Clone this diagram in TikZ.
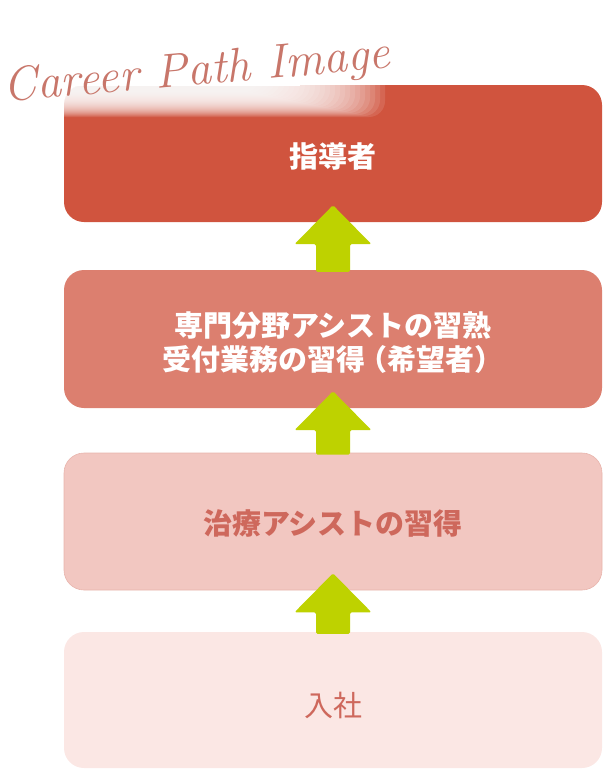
\documentclass[tikz,border=0pt]{standalone}
\usepackage{fontspec}
\newfontfamily\jp{Noto Sans CJK JP}
\usetikzlibrary{calc}
\definecolor{cA}{RGB}{208,84,62}
\definecolor{cB}{RGB}{220,127,111}
\definecolor{cC}{RGB}{242,199,193}
\definecolor{cCline}{RGB}{232,180,172}
\definecolor{cD}{RGB}{251,231,228}
\definecolor{txtred}{RGB}{206,104,92}
\definecolor{arrowgreen}{RGB}{190,210,0}
\definecolor{titlecol}{RGB}{200,118,106}
\tikzset{
  stage/.style={rounded corners=20pt, minimum width=538pt, inner sep=0pt},
  stagetext/.style={align=center, inner sep=0pt, font=\jp\bfseries\fontsize{29}{34}\selectfont},
  uparrow/.style={fill=arrowgreen, rounded corners=1.5pt}
}
\begin{document}
\begin{tikzpicture}[x=1pt,y=-1pt]
\useasboundingbox (0,0) rectangle (604,771);
\node[stage, fill=cA, minimum height=137pt] (b1) at (333,153.5) {};
\node[stage, fill=cB, minimum height=138pt] (b2) at (333,339) {};
\node[stage, fill=cC, draw=cCline, line width=0.6pt, minimum height=137pt] (b3) at (333,521.5) {};
\node[stage, fill=cD, minimum height=136pt] (b4) at (333,700) {};
\node[stagetext, text=white] (t1) at ($(b1.center)+(0,3)$) {指導者};
\node[stagetext, text=white] (t2) at ($(b2.center)+(0,4)$) {専門分野アシストの習熟\\受付業務の習得\kern-7pt（希望者）};
\node[stagetext, text=txtred] (t3) at ($(b3.center)+(0,2)$) {治療アシストの習得};
\node[stagetext, text=txtred, font=\jp\fontsize{29}{34}\selectfont] (t4) at ($(b4.center)+(0,5)$) {入社};
% soft white blur under title
\fill[white] (50,60) rectangle (300,86);
\foreach \i in {1,...,26}{
  \fill[white, opacity=0.11, rounded corners=16pt] (50,60) rectangle ({255+5*\i},{91+\i});
}
% arrows
\foreach \lo/\hi/\tip in {b2/b1/17, b3/b2/17, b4/b3/17}{
  \fill[uparrow] ($(\lo.north)+(-17,2)$) -- ($(\lo.north)+(17,2)$)
    -- ($(\hi.south)+(17,22)$) -- ($(\hi.south)+(38.5,22)$)
    -- ($(\hi.south)+(0,-\tip)$) -- ($(\hi.south)+(-38.5,22)$)
    -- ($(\hi.south)+(-17,22)$) -- cycle;
}
\node[rotate=5, text=titlecol, font=\itshape\fontsize{48}{48}\selectfont, inner sep=0pt] (title) at (197,73) {Career Path Image};
\end{tikzpicture}
\end{document}
